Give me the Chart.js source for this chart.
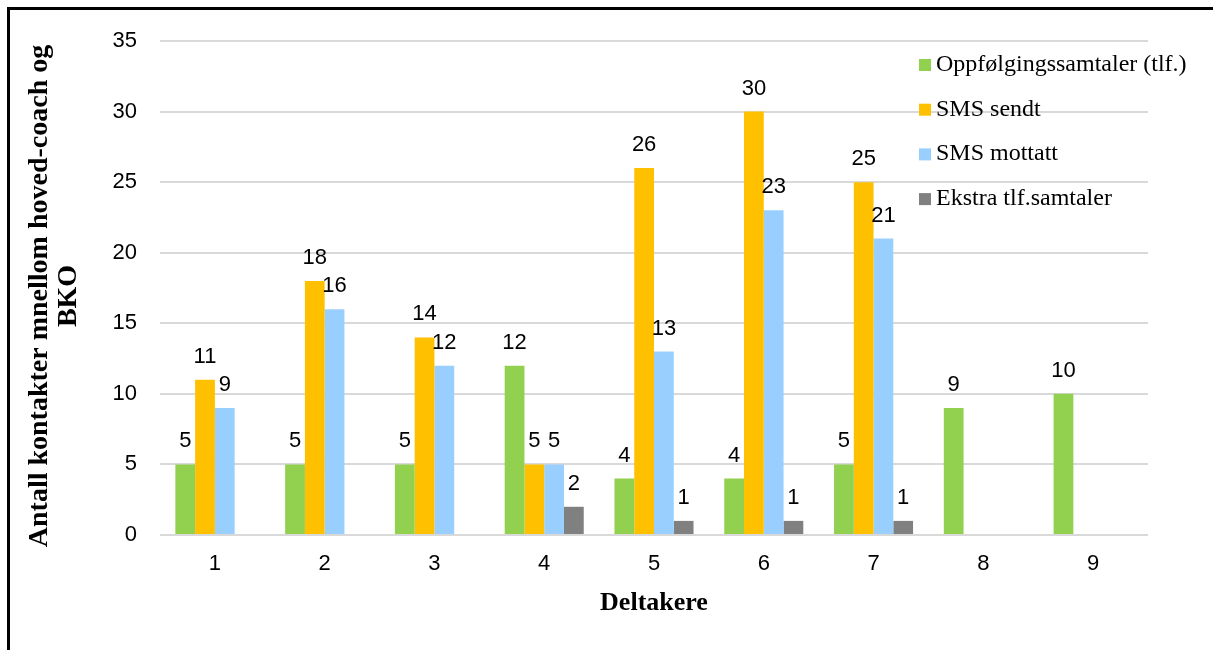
<!DOCTYPE html>
<html lang="no">
<head>
<meta charset="utf-8">
<title>Antall kontakter</title>
<script src="https://cdn.jsdelivr.net/npm/chart.js@4.4.1/dist/chart.umd.min.js"></script>
<style>
  html, body { margin: 0; padding: 0; background: #fff; }
  #moldura { position: absolute; left: 0; top: 0; width: 1213px; height: 650px; overflow: hidden; }
  #borda { position: absolute; left: 7px; top: 7px; width: 1300px; height: 700px; border-left: 3px solid #000; border-top: 3px solid #000; pointer-events: none; }
  #grafico { position: absolute; left: 0; top: 0; }
</style>
</head>
<body>
<div id="moldura">
  <canvas id="grafico" width="1213" height="650"></canvas>
  <div id="borda"></div>
</div>
<script>
// Dados do gráfico
const deltakere = ['1', '2', '3', '4', '5', '6', '7', '8', '9'];
const oppfolgingssamtaler = [5, 5, 5, 12, 4, 4, 5, 9, 10];
const smsSendt = [11, 18, 14, 5, 26, 30, 25, null, null];
const smsMottatt = [9, 16, 12, 5, 13, 23, 21, null, null];
const ekstraSamtaler = [null, null, null, 2, 1, 1, 1, null, null];
const ticksY = [0, 5, 10, 15, 20, 25, 30, 35];
const tituloY = ['Antall kontakter mnellom hoved-coach og', 'BKO'];

const fonteSans = '"Liberation Sans", Arial, sans-serif';
const fonteSerif = '"Liberation Serif", "Times New Roman", serif';

// Plugin para escrever o valor em cima de cada barra
const rotulosPlugin = {
    id: 'rotulos',
    afterDatasetsDraw(chart) {
        const ctx = chart.ctx;
        ctx.save();
        ctx.font = '22px ' + fonteSans;
        ctx.fillStyle = '#000';
        ctx.textAlign = 'center';
        ctx.textBaseline = 'alphabetic';
        chart.data.datasets.forEach((ds, i) => {
            const meta = chart.getDatasetMeta(i);
            meta.data.forEach((barra, j) => {
                const valor = ds.data[j];
                if (valor === null || valor === undefined) return;
                ctx.fillText(String(valor), barra.x, barra.y - 17);
            });
        });
        ctx.restore();
    }
};

// Título do eixo Y em duas linhas (um pouco abaixo do centro, como no original)
const tituloYPlugin = {
    id: 'tituloY',
    afterDraw(chart) {
        const ctx = chart.ctx;
        const area = chart.chartArea;
        const centroY = (area.top + area.bottom) / 2 + 8;
        ctx.save();
        ctx.font = 'bold 28px ' + fonteSerif;
        ctx.fillStyle = '#000';
        ctx.textAlign = 'center';
        ctx.textBaseline = 'middle';
        tituloY.forEach((linha, i) => {
            ctx.save();
            ctx.translate(40 + i * 29, centroY);
            ctx.rotate(-Math.PI / 2);
            ctx.fillText(linha, 0, 0);
            ctx.restore();
        });
        ctx.restore();
    }
};

// Legenda desenhada à mão, por cima da área do gráfico (como no original)
const legendaPlugin = {
    id: 'legendaManual',
    afterDraw(chart) {
        const ctx = chart.ctx;
        const x0 = chart.chartArea.right - 229;
        const y0 = chart.chartArea.top + 24;
        ctx.save();
        ctx.font = '24px ' + fonteSerif;
        ctx.textAlign = 'left';
        ctx.textBaseline = 'alphabetic';
        chart.data.datasets.forEach((ds, i) => {
            const y = y0 + i * 44.7;
            ctx.fillStyle = ds.backgroundColor;
            ctx.fillRect(x0, y - 6, 12, 12);
            ctx.fillStyle = '#000';
            ctx.fillText(ds.label, x0 + 17, y + 6);
        });
        ctx.restore();
    }
};

const ctx = document.getElementById('grafico').getContext('2d');
new Chart(ctx, {
    type: 'bar',
    data: {
        labels: deltakere,
        datasets: [
            { label: 'Oppfølgingssamtaler (tlf.)', data: oppfolgingssamtaler, backgroundColor: '#92d050' },
            { label: 'SMS sendt', data: smsSendt, backgroundColor: '#ffc000' },
            { label: 'SMS mottatt', data: smsMottatt, backgroundColor: '#99cfff' },
            { label: 'Ekstra tlf.samtaler', data: ekstraSamtaler, backgroundColor: '#808080' }
        ]
    },
    options: {
        responsive: false,
        animation: false,
        layout: { padding: { left: 10, right: 65, top: 41, bottom: 0 } },
        datasets: {
            bar: { categoryPercentage: 0.72, barPercentage: 1, borderWidth: 0 }
        },
        plugins: {
            legend: { display: false },
            tooltip: { enabled: false }
        },
        scales: {
            x: {
                grid: { display: false, drawTicks: false },
                border: { display: false },
                ticks: { color: '#000', font: { family: fonteSans, size: 22 }, padding: 16 },
                title: {
                    display: true,
                    text: 'Deltakere',
                    color: '#000',
                    font: { family: fonteSerif, size: 26, weight: 'bold' },
                    padding: { top: 0, bottom: 31 }
                },
                afterFit(scale) { scale.height = 115; }
            },
            y: {
                min: 0,
                max: 35,
                afterBuildTicks(scale) { scale.ticks = ticksY.map(v => ({ value: v })); },
                grid: { color: '#d9d9d9', lineWidth: 2, drawTicks: false },
                border: { display: false },
                ticks: { color: '#000', font: { family: fonteSans, size: 22 }, padding: 23 },
                title: { display: false },
                afterFit(scale) { scale.width = 150; }
            }
        }
    },
    plugins: [rotulosPlugin, tituloYPlugin, legendaPlugin]
});
</script>
</body>
</html>
